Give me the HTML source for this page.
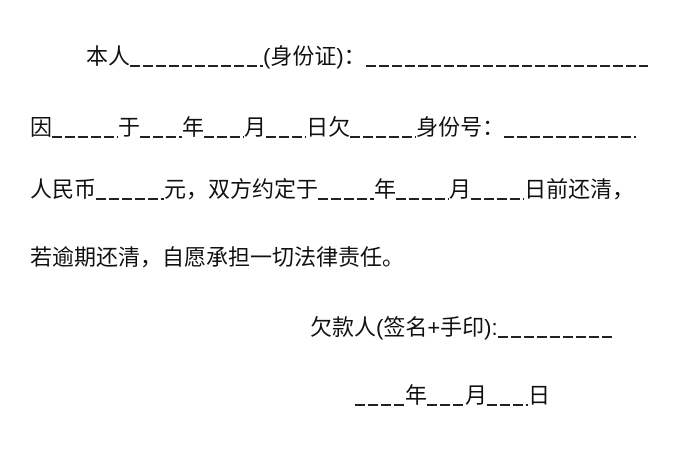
<!DOCTYPE html>
<html><head><meta charset="utf-8"><style>
html,body{margin:0;padding:0;background:#fff;}
body{width:700px;height:470px;position:relative;overflow:hidden;font-family:"Liberation Sans","Noto Sans CJK SC",sans-serif;font-size:22px;color:#111;}
.l{position:absolute;white-space:nowrap;line-height:24px;}
.u{display:inline-block;height:2px;background:repeating-linear-gradient(90deg,#222 0 10px,transparent 10px 13px);vertical-align:-3px;}
</style></head><body>
<div class="l" style="left:86px;top:45px">本人<span class="u" style="width:133px"></span>(身份证)：<span class="u" style="width:282px"></span></div>
<div class="l" style="left:30px;top:116px">因<span class="u" style="width:66px"></span>于<span class="u" style="width:42px"></span>年<span class="u" style="width:40px"></span>月<span class="u" style="width:40px"></span>日欠<span class="u" style="width:66px"></span>身份号：<span class="u" style="width:132px"></span></div>
<div class="l" style="left:30px;top:178px">人民币<span class="u" style="width:68px"></span>元，双方约定于<span class="u" style="width:56px"></span>年<span class="u" style="width:53px"></span>月<span class="u" style="width:53px"></span>日前还清，</div>
<div class="l" style="left:30px;top:246px">若逾期还清，自愿承担一切法律责任。</div>
<div class="l" style="left:310px;top:316px">欠款人(签名+手印):<span class="u" style="width:117px"></span></div>
<div class="l" style="left:355px;top:384px"><span class="u" style="width:50px"></span>年<span class="u" style="width:38px"></span>月<span class="u" style="width:41px"></span>日</div>
</body></html>
